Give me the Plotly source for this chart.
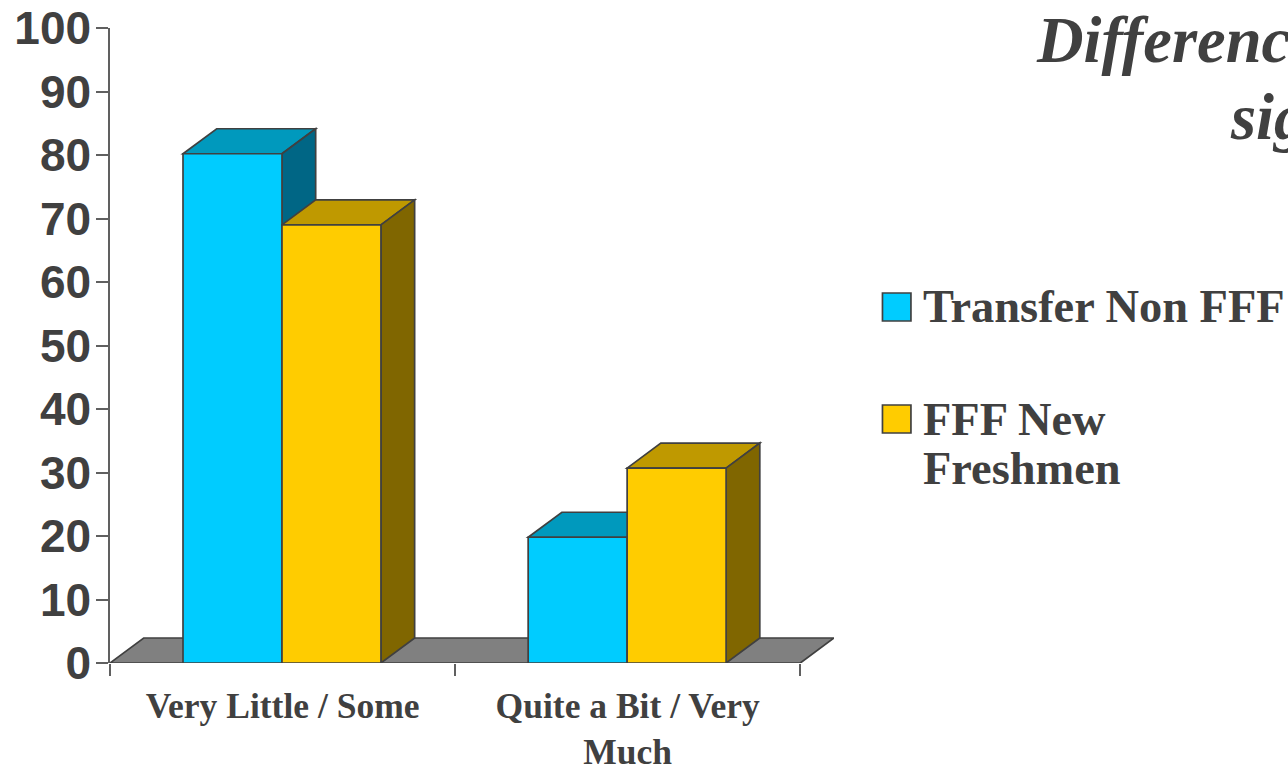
import plotly.graph_objects as go

categories = ["Very Little / Some", "Quite a Bit / Very<br>Much"]
series_names = ["Transfer Non FFF", "FFF New Freshmen"]
transfer_non_fff = [80.2, 19.8]
fff_new_freshmen = [69, 30.7]
y_ticks = list(range(0, 101, 10))

# geometry (pixels of the page)
L, R, T, B = 109.5, 834, 28, 663
W, H = 1288, 765
x_front_max = 800
cat_px = (x_front_max - L) / 2
depth_x = 33.7 / cat_px          # in x-axis units
depth_y = 25 / ((B - T) / 100)   # in y-axis units
bar_w = 99 / cat_px
nudge = -0.6 / cat_px

FRONT = ["#00CCFF", "#FFCC00"]
TOP = ["#0099BD", "#BF9900"]
SIDE = ["#006685", "#806600"]
LINE = "#404040"
TEXT = "#404040"
SERIF = "Liberation Serif, Times New Roman, serif"
SANS = "Liberation Sans, Arial, sans-serif"


def poly(points):
    return "M " + " L ".join(f"{x},{y}" for x, y in points) + " Z"


def face(points, color):
    return dict(type="path", xref="x", yref="y", layer="below", path=poly(points),
                fillcolor=color, line=dict(color=LINE, width=1.7))


x0, x1 = -0.5, 1.5
shapes = [face([(x0, 0), (x0 + depth_x, depth_y), (x1 + depth_x, depth_y), (x1, 0)], "#808080")]

fig = go.Figure()
for s, (name, vals) in enumerate(zip(series_names, [transfer_non_fff, fff_new_freshmen])):
    fig.add_trace(go.Bar(
        x=[0, 1], y=vals, name=name, width=bar_w, showlegend=False,
        offset=(s - 1) * bar_w + nudge,
        marker=dict(color=FRONT[s], line=dict(color=LINE, width=1.7)),
    ))
    for c, v in enumerate(vals):
        a = c + (s - 1) * bar_w + nudge
        b = a + bar_w
        shapes.append(face([(a, v), (a + depth_x, v + depth_y), (b + depth_x, v + depth_y), (b, v)], TOP[s]))
        shapes.append(face([(b, 0), (b + depth_x, depth_y), (b + depth_x, v + depth_y), (b, v)], SIDE[s]))


def px(x):
    return (x - L) / (R - L)


def py(y):
    return (B - y) / (B - T)


annotations = []


def label(text, x, y, size, italic=False):
    annotations.append(dict(
        text=text, xref="paper", yref="paper", x=px(x), y=py(y), xanchor="left", yanchor="middle",
        showarrow=False, align="left", borderpad=0,
        font=dict(family=SERIF, size=size, color=TEXT, weight="bold", style="italic" if italic else "normal"),
    ))


label("Differenc", 1035, 41, 64.5, True)
label("sig", 1229, 118, 64.5, True)
label("Transfer Non FFF", 922.5, 306, 46.4)
label("FFF New", 922.5, 419, 46.4)
label("Freshmen", 922.5, 469, 46.4)

for (top, color) in [(293, FRONT[0]), (405, FRONT[1])]:
    shapes.append(dict(type="rect", xref="paper", yref="paper", x0=px(882.5), x1=px(911),
                       y0=py(top), y1=py(top + 28), fillcolor=color, line=dict(color=LINE, width=1.7)))

fig.update_layout(
    width=W, height=H, autosize=False, showlegend=False, template="none",
    margin=dict(l=L, r=W - R, t=T, b=H - B, pad=0),
    paper_bgcolor="white", plot_bgcolor="rgba(0,0,0,0)",
    shapes=shapes, annotations=annotations,
    xaxis=dict(
        range=[x0, x1 + depth_x], tickvals=[0, 1], ticktext=categories, ticks="", showline=False,
        showgrid=False, zeroline=False, ticklabelstandoff=18, automargin=False,
        tickfont=dict(family=SERIF, size=35.5, color=TEXT, weight="bold"),
        minor=dict(tickvals=[-0.5, 0.5, 1.5], ticks="outside", ticklen=12, tickcolor="#606060",
                   tickwidth=1.5, showgrid=False),
    ),
    yaxis=dict(
        range=[0, 100], tickvals=y_ticks, ticks="outside", ticklen=12, tickcolor="#606060", tickwidth=1.5,
        showline=True, linecolor="#606060", linewidth=1.5, showgrid=False, zeroline=False, automargin=False,
        tickfont=dict(family=SANS, size=46, color=TEXT, weight="bold"), ticklabelstandoff=-4,
    ),
)

fig.write_html("out.html", config={"displayModeBar": False},
               post_script="document.body.style.margin='0';document.body.style.overflow='hidden';")
